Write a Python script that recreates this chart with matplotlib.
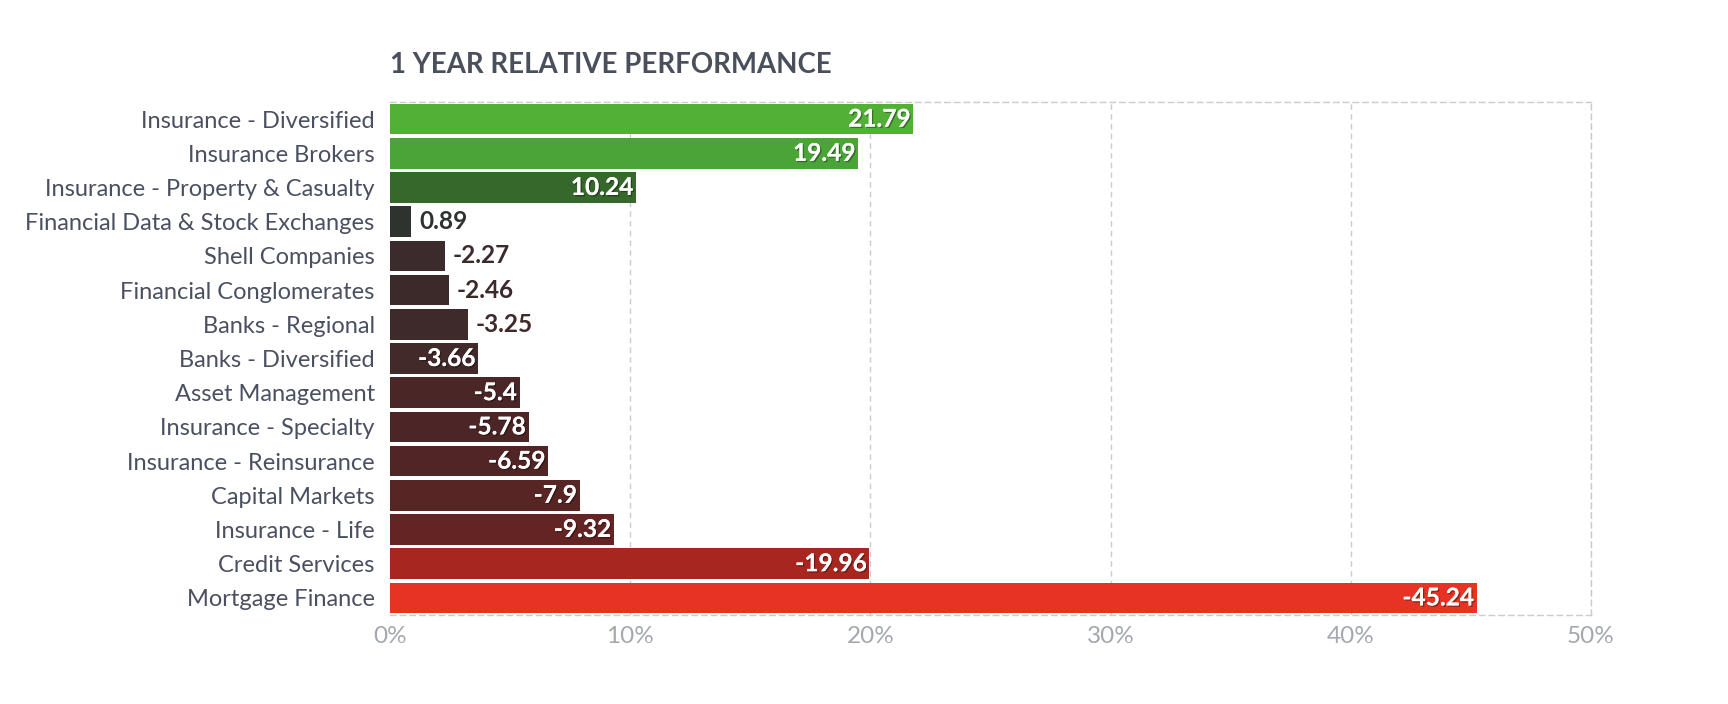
import matplotlib
matplotlib.use("Agg")
import matplotlib.pyplot as plt
import matplotlib.patheffects as pe
from matplotlib.transforms import ScaledTranslation

# data
categories = [
    "Insurance - Diversified",
    "Insurance Brokers",
    "Insurance - Property & Casualty",
    "Financial Data & Stock Exchanges",
    "Shell Companies",
    "Financial Conglomerates",
    "Banks - Regional",
    "Banks - Diversified",
    "Asset Management",
    "Insurance - Specialty",
    "Insurance - Reinsurance",
    "Capital Markets",
    "Insurance - Life",
    "Credit Services",
    "Mortgage Finance",
]
values = [21.79, 19.49, 10.24, 0.89, -2.27, -2.46, -3.25, -3.66,
          -5.4, -5.78, -6.59, -7.9, -9.32, -19.96, -45.24]
bar_colors = ["#52b036", "#4aa437", "#36672b", "#2e332f", "#3b2b2c",
              "#3c2a2b", "#3f2a2b", "#422a2b", "#4a2627", "#4c2627",
              "#512526", "#582525", "#642424", "#a82620", "#e63323"]
xticks = [0, 10, 20, 30, 40, 50]
xtick_labels = ["0%", "10%", "20%", "30%", "40%", "50%"]

plt.rcParams["font.family"] = ["Lato", "DejaVu Sans"]

fig = plt.figure(figsize=(17.28, 7.04), dpi=100)
ax = fig.add_axes([390 / 1728, 89 / 704, 1201 / 1728, 513 / 704])

ypos = list(range(len(categories)))
lengths = [abs(v) for v in values]
ax.barh(ypos, lengths, height=0.9, color=bar_colors, zorder=3)

ax.set_xlim(0, 50)
ax.set_ylim(len(categories) - 0.5, -0.5)

# dashed grid + frame
grid_kw = dict(color="#cbcbd0", linewidth=1.0, linestyle=(0, (4, 3)), zorder=1)
for x in xticks[1:]:
    ax.axvline(x, **grid_kw)
ax.spines["left"].set_visible(False)
for s in ["top", "bottom", "right"]:
    ax.spines[s].set_color("#cbcbd0")
    ax.spines[s].set_linestyle((0, (4, 3)))
    ax.spines[s].set_linewidth(1.0)

ax.set_xticks(xticks)
ax.set_xticklabels(xtick_labels, fontsize=17.5, color="#a4a8ae")
ax.set_yticks(ypos)
ax.set_yticklabels(categories, fontsize=17, color="#4b5060")
ax.tick_params(axis="both", length=0)
ax.tick_params(axis="x", pad=8)
ax.tick_params(axis="y", pad=11)

fig.text(390 / 1728, 1 - 65 / 704, "1 YEAR RELATIVE PERFORMANCE",
         fontsize=19.9, fontweight="bold", color="#4a4f5c", va="center", ha="left")

# value labels: inside the bar if there is room, otherwise just after it
fig.canvas.draw()
renderer = fig.canvas.get_renderer()
shadow = [pe.withSimplePatchShadow(offset=(1, -1), shadow_rgbFace="black", alpha=0.35), pe.Normal()]
for y, v, w, c in zip(ypos, values, lengths, bar_colors):
    t = ax.text(w, y, f"{v:g}", fontsize=17.6, fontweight="bold", va="center", ha="right", zorder=4)
    tw = t.get_window_extent(renderer).width
    bar_px = ax.transData.transform((w, 0))[0] - ax.transData.transform((0, 0))[0]
    if tw + 25 < bar_px:
        t.set_color("white")
        t.set_path_effects(shadow)
        t.set_transform(ax.transData + ScaledTranslation(-3 / 100, 0, fig.dpi_scale_trans))
    else:
        t.set_ha("left")
        t.set_color(c)
        t.set_transform(ax.transData + ScaledTranslation(8 / 100, 0, fig.dpi_scale_trans))

fig.savefig("out.png", dpi=100, facecolor="white")
